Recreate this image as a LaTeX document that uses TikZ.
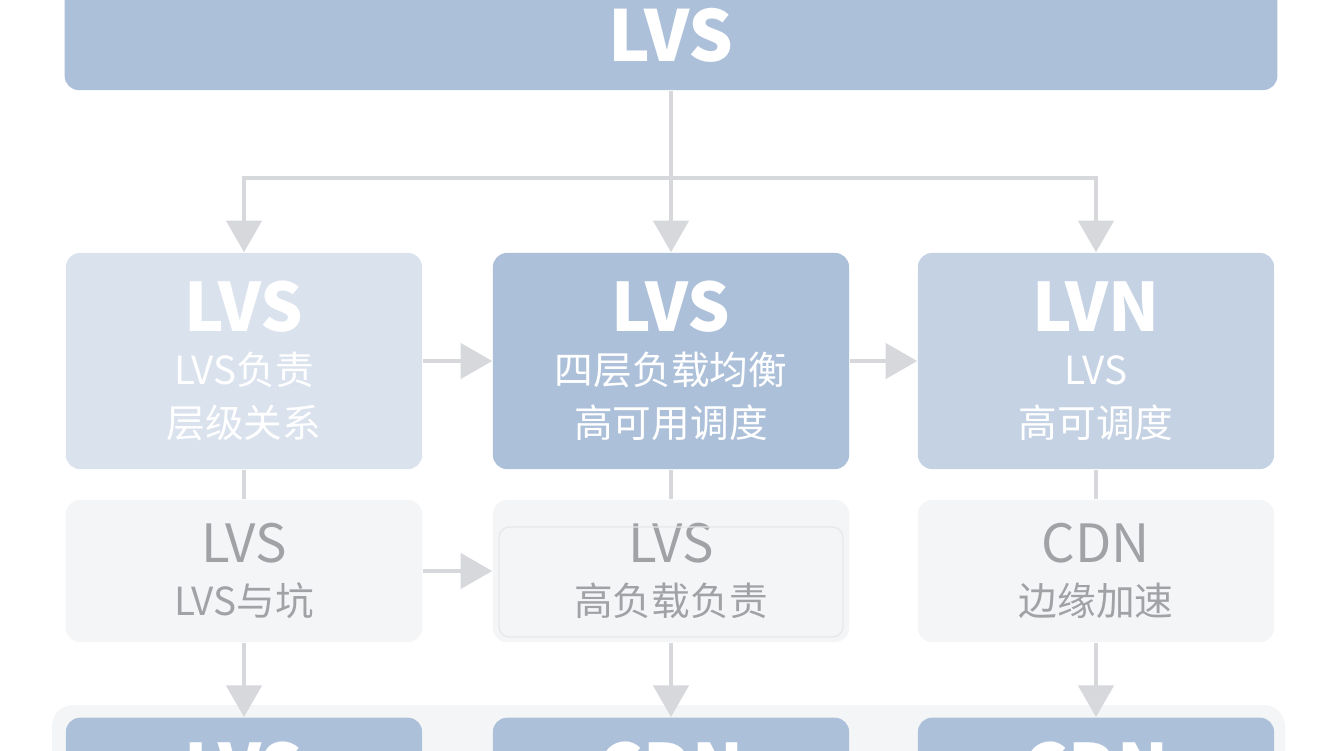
\documentclass[tikz,border=0pt]{standalone}
\usepackage{fontspec}
\setmainfont{Noto Sans CJK SC}
\usetikzlibrary{positioning, arrows.meta}
\definecolor{lvsdark}{RGB}{173,192,218}
\definecolor{lvsmid}{RGB}{197,210,228}
\definecolor{lvslight}{RGB}{214,223,236}
\definecolor{lvspale}{RGB}{244,245,247}
\definecolor{lvsline}{RGB}{214,216,220}
\definecolor{lvsgrey}{RGB}{160,162,166}

\begin{document}
\begin{tikzpicture}[
    x=0.01cm, y=-0.01cm,
    box/.style={rounded corners=4pt, minimum width=3.56cm, minimum height=2.16cm, align=center, text=white, font=\fontsize{11}{15}\selectfont},
    mid box/.style={box, fill=lvsdark},
    side box/.style={box, fill=lvslight},
    pale box/.style={box, fill=lvspale, minimum height=1.42cm, text=lvsgrey},
    base box/.style={box, fill=lvsdark, minimum height=1cm, anchor=north},
    link/.style={lvsline, line width=1.2pt},
    arrow/.style={link, -{Triangle[width=10pt,length=9pt]}}
]
    \useasboundingbox (0,0) rectangle (1344,750);
    \fill[white] (0,0) rectangle (1344,750);

    % Top bar
    \node[box, fill=lvsdark, minimum width=12.12cm, minimum height=1.1cm] (top) at (671,35) {\fontsize{20}{24}\selectfont\bfseries LVS};

    % Second row
    \node[side box, fill=lvslight!90!white] (a1) at (244,361) {{\fontsize{19}{22}\selectfont\bfseries LVS}\\LVS负责\\层级关系};
    \node[mid box] (a2) at (671,361) {{\fontsize{19}{22}\selectfont\bfseries LVS}\\四层负载均衡\\高可用调度};
    \node[side box, fill=lvsmid] (a3) at (1096,361) {{\fontsize{19}{22}\selectfont\bfseries LVN}\\LVS\\高可调度};

    % Third row
    \node[pale box] (b1) at (244,571) {\fontsize{15}{19}\selectfont LVS\\LVS与坑};
    \node[pale box] (b2) at (671,571) {\fontsize{15}{19}\selectfont LVS\\高负载负责};
    \node[pale box] (b3) at (1096,571) {\fontsize{15}{19}\selectfont CDN\\边缘加速};
    \draw[lvsline!60, rounded corners=3pt] (499,527) rectangle (843,637);

    % Bottom row
    \fill[lvspale, rounded corners=6pt] (52,705) rectangle (1285,780);
    \node[base box] (c1) at (244,717) {\bfseries\fontsize{19}{22}\selectfont LVS};
    \node[base box] (c2) at (671,717) {\bfseries\fontsize{19}{22}\selectfont CDN};
    \node[base box] (c3) at (1096,717) {\bfseries\fontsize{19}{22}\selectfont CDN};

    % Connections
    \coordinate (split) at (671,178);
    \draw[link] (top) -- (split);
    \draw[arrow] (split) -| (a1.north);
    \draw[arrow] (split) -- (a2.north);
    \draw[arrow] (split) -| (a3.north);
    \draw[arrow] (a1) -- (a2);
    \draw[arrow] (a2) -- (a3);
    \draw[arrow] (b1) -- (b2);
    \foreach \i in {1,2,3} {
        \draw[link] (a\i.south) -- (b\i.north);
        \draw[arrow] (b\i.south) -- (c\i.north);
    }
\end{tikzpicture}
\end{document}
